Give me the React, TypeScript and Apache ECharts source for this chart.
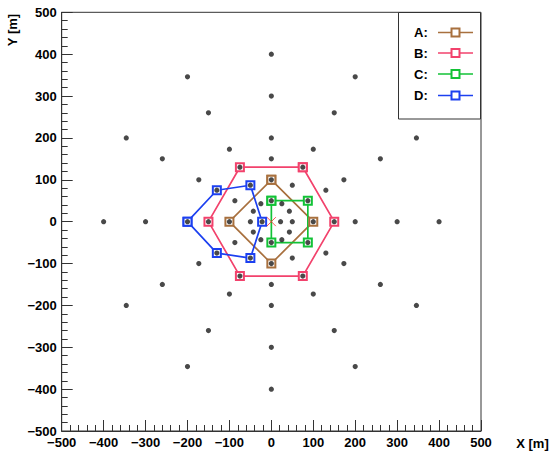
import React, { useEffect, useRef } from "react";
import * as echarts from "echarts";

// Detector stations (x, y) in metres
const stationsR400: [number, number][] = [
  [400, 0], [346, 200], [200, 346], [0, 400], [-200, 346], [-346, 200],
  [-400, 0], [-346, -200], [-200, -346], [0, -400], [200, -346], [346, -200],
];
const stationsR300: [number, number][] = [
  [300, 0], [260, 150], [150, 260], [0, 300], [-150, 260], [-260, 150],
  [-300, 0], [-260, -150], [-150, -260], [0, -300], [150, -260], [260, -150],
];
const stationsR200: [number, number][] = [
  [200, 0], [173, 100], [100, 173], [0, 200], [-100, 173], [-173, 100],
  [-200, 0], [-173, -100], [-100, -173], [0, -200], [100, -173], [173, -100],
];
const stationsR150: [number, number][] = [
  [150, 0], [130, 75], [75, 130], [0, 150], [-75, 130], [-130, 75],
  [-150, 0], [-130, -75], [-75, -130], [0, -150], [75, -130], [130, -75],
];
const stationsR100: [number, number][] = [
  [100, 0], [87, 50], [50, 87], [0, 100], [-50, 87], [-87, 50],
  [-100, 0], [-87, -50], [-50, -87], [0, -100], [50, -87], [87, -50],
];
const stationsR50: [number, number][] = [
  [50, 0], [43, 25], [25, 43], [0, 50], [-25, 43], [-43, 25],
  [-50, 0], [-43, -25], [-25, -43], [0, -50], [25, -43], [43, -25],
];
const stationsInner: [number, number][] = [[22, 0], [-22, 0]];

const centerMark: [number, number][] = [[0, 0]];

// Configurations (closed polygons)
const configA: [number, number][] = [[0, 100], [100, 0], [0, -100], [-100, 0], [0, 100]];
const configB: [number, number][] = [
  [75, 130], [150, 0], [75, -130], [-75, -130], [-150, 0], [-75, 130], [75, 130],
];
const configC: [number, number][] = [[0, 50], [87, 50], [87, -50], [0, -50], [0, 50]];
const configD: [number, number][] = [
  [-200, 0], [-130, 75], [-50, 87], [-22, 0], [-50, -87], [-130, -75], [-200, 0],
];

const configNames = ["A:", "B:", "C:", "D:"];
const configColors = ["#a8703e", "#f2426c", "#12c236", "#1c40f0"];

const AXIS_MIN = -500;
const AXIS_MAX = 500;
const AXIS_STEP = 100;

const FONT = "'Liberation Sans', Arial, Helvetica, sans-serif";

export default function App() {
  const ref = useRef<HTMLDivElement>(null);

  useEffect(() => {
    document.body.style.margin = "0";
    if (!ref.current) return;
    const chart = echarts.init(ref.current, undefined, { renderer: "svg" });

    const allStations = [
      ...stationsR400, ...stationsR300, ...stationsR200, ...stationsR150,
      ...stationsR100, ...stationsR50, ...stationsInner,
    ];
    const configs = [configA, configB, configC, configD];
    const fmt = (v: number) => String(v).replace("-", "\u2212");

    const axisCommon = {
      type: "value" as const,
      min: AXIS_MIN,
      max: AXIS_MAX,
      interval: AXIS_STEP,
      axisLine: { show: true, onZero: false, lineStyle: { color: "#333", width: 1 } },
      axisTick: { show: true, inside: true, length: 11, lineStyle: { color: "#333", width: 1 } },
      minorTick: { show: true, splitNumber: 5, length: 6, lineStyle: { color: "#333", width: 1 } },
      splitLine: { show: false },
      minorSplitLine: { show: false },
      axisLabel: {
        color: "#000",
        fontFamily: FONT,
        fontWeight: "bold" as const,
        fontSize: 13,
        margin: 5,
        formatter: fmt,
      },
    };

    const lineSeries = configs.map((d, i) => ({
      type: "line" as const,
      name: configNames[i],
      data: d,
      z: 3,
      symbol: "rect",
      symbolSize: 8,
      showSymbol: true,
      lineStyle: { color: configColors[i], width: 1.7 },
      itemStyle: { color: "#ffffff", borderColor: configColors[i], borderWidth: 2 },
      emphasis: { disabled: true },
    }));

    const legendRows = [32.5, 53, 74, 95.5];
    const legendGraphics: any[] = [
      {
        type: "rect",
        z: 100,
        shape: { x: 398.5, y: 12.5, width: 82, height: 106.5 },
        style: { fill: "#ffffff", stroke: "#333", lineWidth: 1 },
      },
    ];
    legendRows.forEach((y, i) => {
      legendGraphics.push({
        type: "text",
        z: 101,
        x: 414,
        y: y,
        style: {
          text: configNames[i],
          fill: "#000",
          font: `bold 13px ${FONT}`,
          verticalAlign: "middle",
          align: "left",
        },
      });
      legendGraphics.push({
        type: "line",
        z: 101,
        shape: { x1: 438, y1: y, x2: 473, y2: y },
        style: { stroke: configColors[i], lineWidth: 1.7 },
      });
      legendGraphics.push({
        type: "rect",
        z: 102,
        shape: { x: 451.5, y: y - 4, width: 8, height: 8 },
        style: { fill: "#ffffff", stroke: configColors[i], lineWidth: 2 },
      });
    });

    chart.setOption({
      animation: false,
      backgroundColor: "#ffffff",
      grid: {
        left: 61.7,
        right: 69,
        top: 12.3,
        bottom: 28,
        show: true,
        borderColor: "#333",
        borderWidth: 1,
        backgroundColor: "transparent",
      },
      xAxis: { ...axisCommon },
      yAxis: { ...axisCommon },
      series: [
        ...lineSeries,
        {
          type: "scatter",
          name: "stations",
          data: allStations,
          z: 5,
          symbol: "circle",
          symbolSize: 5.2,
          itemStyle: { color: "#1c1c1c" },
          emphasis: { disabled: true },
        },
        {
          type: "scatter",
          name: "center",
          data: centerMark,
          z: 6,
          symbol: "path://M0,0L10,10M10,0L0,10",
          symbolSize: 9,
          itemStyle: { color: "transparent", borderColor: "#ff2a2a", borderWidth: 1 },
          emphasis: { disabled: true },
        },
      ],
      graphic: [
        {
          type: "text",
          x: 532.5,
          y: 443,
          style: {
            text: "X [m]",
            fill: "#000",
            font: `bold 13px ${FONT}`,
            align: "center",
            verticalAlign: "middle",
          },
        },
        {
          type: "text",
          x: 12,
          y: 30,
          rotation: Math.PI / 2,
          style: {
            text: "Y [m]",
            fill: "#000",
            font: `bold 13px ${FONT}`,
            align: "center",
            verticalAlign: "middle",
          },
        },
        ...legendGraphics,
      ],
    });

    return () => chart.dispose();
  }, []);

  return <div ref={ref} style={{ width: 550, height: 459 }} />;
}
